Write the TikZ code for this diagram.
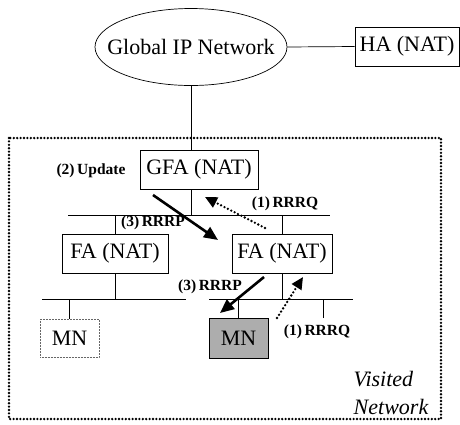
\documentclass[tikz,border=0pt]{standalone}
\usepackage{fontspec}
\setmainfont{Liberation Serif}
\usetikzlibrary{arrows.meta,shapes.geometric}
\tikzset{
  box/.style={draw, line width=0.7pt, inner sep=0pt, font=\fontsize{22}{24}\selectfont},
  msg/.style={font=\bfseries\fontsize{15.5}{17}\selectfont, inner sep=0pt},
  sendarrow/.style={line width=2.6pt, -{Triangle[length=14pt,width=12pt]}},
  reqarrow/.style={line width=2.6pt, dash pattern=on 0pt off 3.8pt, line cap=round, -{Triangle[length=12pt,width=11pt]}},
}

\begin{document}
\begin{tikzpicture}[x=1pt, y=-1pt]
		%%%%% START %%%%%
		\useasboundingbox (0,0) rectangle (460,424);
		
		% visited network
		\draw[line width=2.6pt, dash pattern=on 0pt off 3.4pt, line cap=round] (9,138) rectangle (441,419);
		\node[align=left, font=\itshape\fontsize{22}{28}\selectfont, inner sep=0pt] (visited) at (391,393) {Visited\\Network};
		
		% nodes
		\node[box, ellipse, inner xsep=-16pt, inner ysep=14pt, minimum width=192pt, minimum height=77pt] (net) at (191,47) {Global IP Network};
		\node[box, minimum width=104pt, minimum height=39pt] (ha) at (407,46.5) {HA (NAT)};
		\node[box, minimum width=118pt, minimum height=39pt] (gfa) at (199,169.5) {GFA (NAT)};
		\node[box, minimum width=106pt, minimum height=39pt] (fal) at (115,253.5) {FA (NAT)};
		\node[box, minimum width=100pt, minimum height=39pt] (far) at (282,253.5) {FA (NAT)};
		\node[box, draw=black!60, line width=0.5pt, densely dotted, minimum width=59pt, minimum height=38pt] (mnl) at (69.5,338) {MN};
		\node[box, fill=black!32, minimum width=59pt, minimum height=40pt] (mnr) at (238.5,338) {MN};
		
		% buses
		\coordinate (b1w) at (68,215);
		\coordinate (b1e) at (330,215);
		\coordinate (b2lw) at (42,299);
		\coordinate (b2le) at (186,299);
		\coordinate (b2rw) at (209,299);
		\coordinate (b2re) at (353,299);
		\coordinate (stub) at (323,318);
		\draw[line width=0.7pt] (b1w) -- (b1e);
		\draw[line width=0.7pt] (b2lw) -- (b2le);
		\draw[line width=0.7pt] (b2rw) -- (b2re);
		
		% links
		\draw[line width=0.7pt] (net.east) -- (ha.west);
		\draw[line width=0.7pt] (net.south) -- (net.south |- gfa.north);
		\draw[line width=0.7pt] (net.south |- gfa.south) -- (net.south |- b1w);
		\draw[line width=0.7pt] (fal.north) -- (fal.north |- b1w);
		\draw[line width=0.7pt] (fal.south) -- (fal.south |- b2lw);
		\draw[line width=0.7pt] (far.north) -- (far.north |- b1w);
		\draw[line width=0.7pt] (far.south) -- (far.south |- b2rw);
		\draw[line width=0.7pt] (mnl.north) -- (mnl.north |- b2lw);
		\draw[line width=0.7pt] (mnr.north) -- (mnr.north |- b2rw);
		\draw[line width=0.7pt] (stub) -- (stub |- b2rw);
		
		% messages
		\coordinate (upd-s) at (153,195);
		\coordinate (upd-e) at (218,240);
		\coordinate (rq1-s) at (265,228);
		\coordinate (rq1-e) at (205,197);
		\coordinate (rp2-s) at (264,277);
		\coordinate (rp2-e) at (220,313);
		\coordinate (rq2-s) at (277,318);
		\coordinate (rq2-e) at (303,277);
		\draw[sendarrow] (upd-s) -- (upd-e);
		\draw[reqarrow] (rq1-s) -- (rq1-e);
		\draw[sendarrow] (rp2-s) -- (rp2-e);
		\draw[reqarrow] (rq2-s) -- (rq2-e);
		
		\node[msg] (lupd) at (91,171) {(2)\,Update};
		\node[msg] (lrp1) at (153,222.5) {(3)\,RRRP};
		\node[msg] (lrq1) at (285,204) {(1)\,RRRQ};
		\node[msg] (lrp2) at (210,287) {(3)\,RRRP};
		\node[msg] (lrq2) at (317,332) {(1)\,RRRQ};
		%%%%% END %%%%%
\end{tikzpicture}
\end{document}
